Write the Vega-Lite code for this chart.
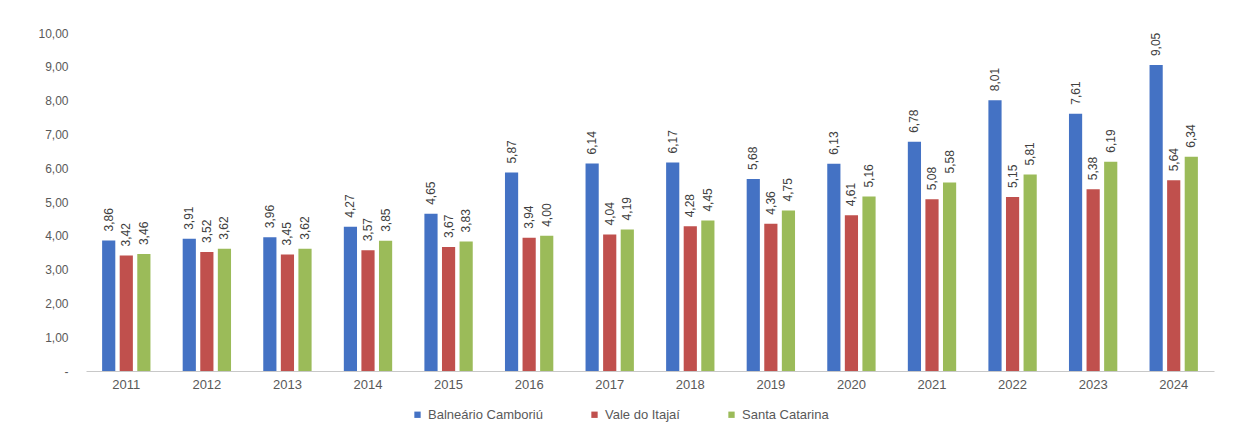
{
  "$schema": "https://vega.github.io/schema/vega-lite/v6.json",
  "width": 1128,
  "height": 338,
  "padding": {"left": 86, "top": 33, "right": 31, "bottom": 62},
  "autosize": {"type": "none"},
  "background": "white",
  "config": {
    "view": {"stroke": null},
    "font": "Liberation Sans",
    "locale": {"number": {"decimal": ",", "thousands": ".", "grouping": [3], "currency": ["R$", ""]}}
  },
  "data": {"values": [
    {"ano": "2011", "serie": "Balneário Camboriú", "valor": 3.86},
    {"ano": "2011", "serie": "Vale do Itajaí", "valor": 3.42},
    {"ano": "2011", "serie": "Santa Catarina", "valor": 3.46},
    {"ano": "2012", "serie": "Balneário Camboriú", "valor": 3.91},
    {"ano": "2012", "serie": "Vale do Itajaí", "valor": 3.52},
    {"ano": "2012", "serie": "Santa Catarina", "valor": 3.62},
    {"ano": "2013", "serie": "Balneário Camboriú", "valor": 3.96},
    {"ano": "2013", "serie": "Vale do Itajaí", "valor": 3.45},
    {"ano": "2013", "serie": "Santa Catarina", "valor": 3.62},
    {"ano": "2014", "serie": "Balneário Camboriú", "valor": 4.27},
    {"ano": "2014", "serie": "Vale do Itajaí", "valor": 3.57},
    {"ano": "2014", "serie": "Santa Catarina", "valor": 3.85},
    {"ano": "2015", "serie": "Balneário Camboriú", "valor": 4.65},
    {"ano": "2015", "serie": "Vale do Itajaí", "valor": 3.67},
    {"ano": "2015", "serie": "Santa Catarina", "valor": 3.83},
    {"ano": "2016", "serie": "Balneário Camboriú", "valor": 5.87},
    {"ano": "2016", "serie": "Vale do Itajaí", "valor": 3.94},
    {"ano": "2016", "serie": "Santa Catarina", "valor": 4.0},
    {"ano": "2017", "serie": "Balneário Camboriú", "valor": 6.14},
    {"ano": "2017", "serie": "Vale do Itajaí", "valor": 4.04},
    {"ano": "2017", "serie": "Santa Catarina", "valor": 4.19},
    {"ano": "2018", "serie": "Balneário Camboriú", "valor": 6.17},
    {"ano": "2018", "serie": "Vale do Itajaí", "valor": 4.28},
    {"ano": "2018", "serie": "Santa Catarina", "valor": 4.45},
    {"ano": "2019", "serie": "Balneário Camboriú", "valor": 5.68},
    {"ano": "2019", "serie": "Vale do Itajaí", "valor": 4.36},
    {"ano": "2019", "serie": "Santa Catarina", "valor": 4.75},
    {"ano": "2020", "serie": "Balneário Camboriú", "valor": 6.13},
    {"ano": "2020", "serie": "Vale do Itajaí", "valor": 4.61},
    {"ano": "2020", "serie": "Santa Catarina", "valor": 5.16},
    {"ano": "2021", "serie": "Balneário Camboriú", "valor": 6.78},
    {"ano": "2021", "serie": "Vale do Itajaí", "valor": 5.08},
    {"ano": "2021", "serie": "Santa Catarina", "valor": 5.58},
    {"ano": "2022", "serie": "Balneário Camboriú", "valor": 8.01},
    {"ano": "2022", "serie": "Vale do Itajaí", "valor": 5.15},
    {"ano": "2022", "serie": "Santa Catarina", "valor": 5.81},
    {"ano": "2023", "serie": "Balneário Camboriú", "valor": 7.61},
    {"ano": "2023", "serie": "Vale do Itajaí", "valor": 5.38},
    {"ano": "2023", "serie": "Santa Catarina", "valor": 6.19},
    {"ano": "2024", "serie": "Balneário Camboriú", "valor": 9.05},
    {"ano": "2024", "serie": "Vale do Itajaí", "valor": 5.64},
    {"ano": "2024", "serie": "Santa Catarina", "valor": 6.34}
  ]},
  "encoding": {
    "x": {
      "field": "ano", "type": "nominal", "title": null,
      "scale": {"paddingInner": 0.4, "paddingOuter": 0.2},
      "axis": {"labelAngle": 0, "labelFontSize": 13, "labelColor": "#595959", "domainColor": "#c8c8c8", "ticks": false, "labelPadding": 7}
    },
    "xOffset": {"field": "serie", "type": "nominal", "sort": ["Balneário Camboriú", "Vale do Itajaí", "Santa Catarina"], "scale": {"paddingInner": 0.25, "paddingOuter": 0}},
    "y": {
      "field": "valor", "type": "quantitative", "title": null,
      "scale": {"domain": [0, 10], "nice": false},
      "axis": {"values": [0,1,2,3,4,5,6,7,8,9,10], "grid": false, "domain": false, "ticks": false, "labelFontSize": 12, "labelColor": "#595959", "labelPadding": 18,
        "labelExpr": "datum.value == 0 ? '-' : replace(format(datum.value, '.2f'), '.', ',')"}
    }
  },
  "layer": [
    {
      "mark": {"type": "bar"},
      "encoding": {
        "color": {
          "field": "serie", "type": "nominal", "title": null,
          "scale": {"domain": ["Balneário Camboriú", "Vale do Itajaí", "Santa Catarina"], "range": ["#4472C4", "#C0504D", "#9BBB59"]},
          "legend": {"orient": "none", "legendX": 325, "legendY": 375, "direction": "horizontal", "symbolType": "square", "symbolSize": 40, "labelFontSize": 13, "labelColor": "#595959", "columnPadding": 45}
        }
      }
    },
    {
      "mark": {"type": "text", "angle": -90, "align": "left", "baseline": "middle", "dx": 9, "fontSize": 12, "color": "#404040"},
      "encoding": {
        "text": {"field": "valor", "type": "quantitative", "format": ".2f"}
      }
    }
  ]
}
